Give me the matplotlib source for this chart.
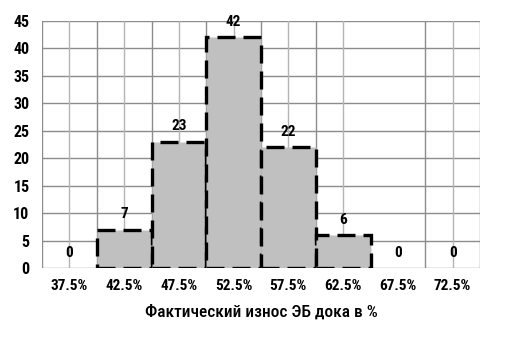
import matplotlib
matplotlib.use("Agg")
import matplotlib.pyplot as plt
from matplotlib import font_manager

categories = ["37.5%", "42.5%", "47.5%", "52.5%", "57.5%", "62.5%", "67.5%", "72.5%"]
counts = [0, 7, 23, 42, 22, 6, 0, 0]
y_ticks = [0, 5, 10, 15, 20, 25, 30, 35, 40, 45]
x_label = "Фактический износ ЭБ дока в %"

avail = {f.name for f in font_manager.fontManager.ttflist}
fam = "DejaVu Sans"
for cand in ["Roboto Condensed", "Liberation Sans Narrow", "DejaVu Sans Condensed", "Roboto"]:
    if cand in avail:
        fam = cand
        break
plt.rcParams["font.family"] = [fam, "DejaVu Sans"]

fig = plt.figure(figsize=(5.07, 3.39), dpi=100)
ax = fig.add_axes([42/507, 1-268/339, 438/507, 247/339])

x = list(range(len(categories)))
ax.set_xlim(-0.5, len(categories)-0.5)
ax.set_ylim(0, 45)

# gridlines
for yv in y_ticks:
    ax.axhline(yv, color="#8c8c8c", lw=1.0, zorder=0)
boundaries = [i - 0.5 for i in range(len(categories)+1)]
for b in boundaries:
    if abs(b - 5.5) < 1e-9:
        continue
    ax.axvline(b, color="#8c8c8c", lw=1.0, zorder=0)
for c in x:
    if c == 6:
        continue
    ax.axvline(c, color="#b4b4b4", lw=1.0, zorder=0)

edges = ["black" if v > 0 else "none" for v in counts]
bars = ax.bar(x, counts, width=1.0, color="#c0c0c0", edgecolor=edges,
              linewidth=2.4, linestyle=(0, (5.4, 2.4)), zorder=2)

for xi, v in zip(x, counts):
    ax.annotate(str(v), (xi, v), xytext=(0, 6), textcoords="offset points",
                ha="center", va="bottom", fontsize=11, fontweight="bold")

for s in ax.spines.values():
    s.set_visible(False)
ax.set_xticks(x)
ax.set_xticklabels(categories, fontsize=11, fontweight="bold")
ax.set_yticks(y_ticks)
ax.set_yticklabels([str(v) for v in y_ticks], fontsize=11.5, fontweight="bold")
ax.tick_params(axis="both", length=0)
ax.tick_params(axis="x", pad=8)
ax.tick_params(axis="y", pad=9)
ax.set_xlabel(x_label, fontsize=12.5, fontweight="medium", labelpad=8)

fig.savefig("out.png", dpi=100)
